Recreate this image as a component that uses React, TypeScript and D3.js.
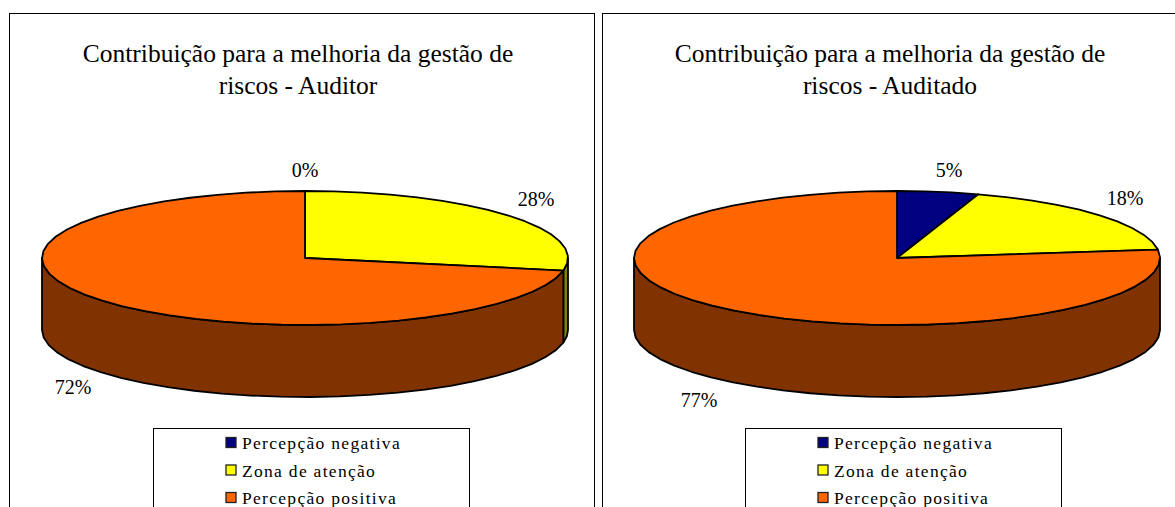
import React from "react";
import * as d3 from "d3";

const categories = ["Percepção negativa", "Zona de atenção", "Percepção positiva"];
const colors = ["#000080", "#ffff00", "#ff6600"];
const wallColors = ["#000040", "#808000", "#803300"];
const auditorValues = [0, 28, 72];
const auditadoValues = [5, 18, 77];
const auditorLabels = ["0%", "28%", "72%"];
const auditadoLabels = ["5%", "18%", "77%"];
const titleLine1 = "Contribuição para a melhoria da gestão de";

const SERIF = "'Liberation Serif', 'Times New Roman', serif";
const RX = 263;
const RY = 67;
const DEPTH = 72;

function sector(a0: number, a1: number, cx: number, cy: number): string {
  const n = Math.max(1, Math.round(Math.abs(a1 - a0) / (Math.PI / 28)));
  const angles = d3.range(n + 1).map((i) => a0 + ((a1 - a0) * i) / n);
  const line = d3.line<number>()
    .x((a) => cx + RX * Math.sin(a))
    .y((a) => cy - RY * Math.cos(a));
  return line(angles)!;
}

function Pie(props: {
  x: number; w: number; cx: number; cy: number; values: number[]; labels: string[];
  title2: string; labelPos: number[][]; legendX: number; legendW: number; swatchX: number;
}) {
  const { x, w, cx, cy, values, labels, title2, labelPos, legendX, legendW, swatchX } = props;
  const arcs = d3.pie<number>().sort(null)(values);
  const frontStart = Math.PI / 2;
  const frontEnd = (3 * Math.PI) / 2;
  return (
    <g fontFamily={SERIF}>
      <rect x={x + 0.5} y={13.5} width={w} height={520} fill="#fff" stroke="#000" strokeWidth={1} />
      <text x={cx - 7} y={62} textAnchor="middle" fontSize={25.5} fill="#000">{titleLine1}</text>
      <text x={cx - 7} y={94} textAnchor="middle" fontSize={25.5} fill="#000">{title2}</text>
      {arcs.map((d, i) => {
        const a0 = Math.max(d.startAngle, frontStart);
        const a1 = Math.min(d.endAngle, frontEnd);
        if (a1 <= a0) return null;
        const top = sector(a0, a1, cx, cy);
        const bottom = sector(a1, a0, cx, cy + DEPTH);
        return <path key={i} d={`${top}L${bottom.slice(1)}Z`} fill={wallColors[i]} stroke="#000" strokeWidth={1.8} strokeLinejoin="round" />;
      })}
      {arcs.map((d, i) => {
        if (d.endAngle - d.startAngle <= 0) return null;
        const rim = sector(d.startAngle, d.endAngle, cx, cy);
        return <path key={i} d={`M${cx},${cy}L${rim.slice(1)}Z`} fill={colors[i]} stroke="#000" strokeWidth={1.8} strokeLinejoin="round" />;
      })}
      {labels.map((t, i) => (
        <text key={t} x={labelPos[i][0]} y={labelPos[i][1]} textAnchor="middle" fontSize={20} fill="#000">{t}</text>
      ))}
      <rect x={legendX + 0.5} y={428.5} width={legendW} height={90} fill="#fff" stroke="#000" strokeWidth={1} />
      {categories.map((c, i) => (
        <g key={c}>
          <rect x={swatchX} y={437.5 + i * 27.5} width={10} height={10} fill={colors[i]} stroke="#222" strokeWidth={1.3} />
          <text x={swatchX + 16} y={449 + i * 27.5} fontSize={17.5} letterSpacing={1.3} fill="#000">{c}</text>
        </g>
      ))}
    </g>
  );
}

export default function App() {
  return (
    <svg width={1175} height={507} style={{ position: "absolute", left: 0, top: 0, display: "block" }}>
      <rect width={1175} height={507} fill="#fff" />
      <Pie x={9} w={585} cx={305} cy={258} values={auditorValues} labels={auditorLabels}
        title2="riscos - Auditor" labelPos={[[305, 177], [536, 206], [73, 394]]}
        legendX={153} legendW={316} swatchX={226} />
      <Pie x={602} w={600} cx={897} cy={258} values={auditadoValues} labels={auditadoLabels}
        title2="riscos - Auditado" labelPos={[[949, 177], [1125, 205], [699, 407]]}
        legendX={745} legendW={316} swatchX={818} />
    </svg>
  );
}
